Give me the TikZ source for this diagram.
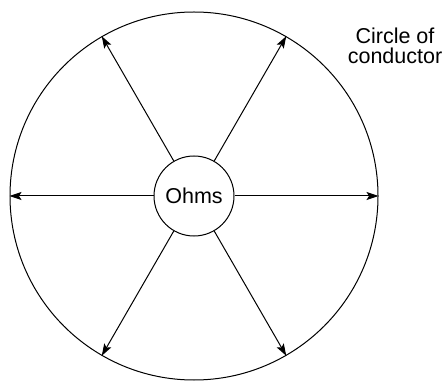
\documentclass[tikz,border=0pt]{standalone}
\usepackage{fontspec}
\setmainfont{Liberation Sans}
\usetikzlibrary{arrows.meta}
\begin{document}
\begin{tikzpicture}[x=1pt,y=1pt,
  ring/.style={draw, circle, line width=1pt, inner sep=0pt},
  ray/.style={line width=1pt, -{Stealth[length=12pt,width=8pt,inset=2.5pt]}},
  lbl/.style={font=\fontsize{21.5}{20}\selectfont}]
\useasboundingbox (0,0) rectangle (446,380);
\node[ring, minimum size=368pt] (C) at (194,184) {};
\node[ring, minimum size=80pt, lbl] (O) at (194,184) {Ohms};
\foreach \a in {0,60,120,180,240,300}{
  \draw[ray] (O.\a) -- (C.\a);
}
\node[lbl, align=center, anchor=base] (T) at (395,316) {Circle of\\conductor};
\end{tikzpicture}
\end{document}
